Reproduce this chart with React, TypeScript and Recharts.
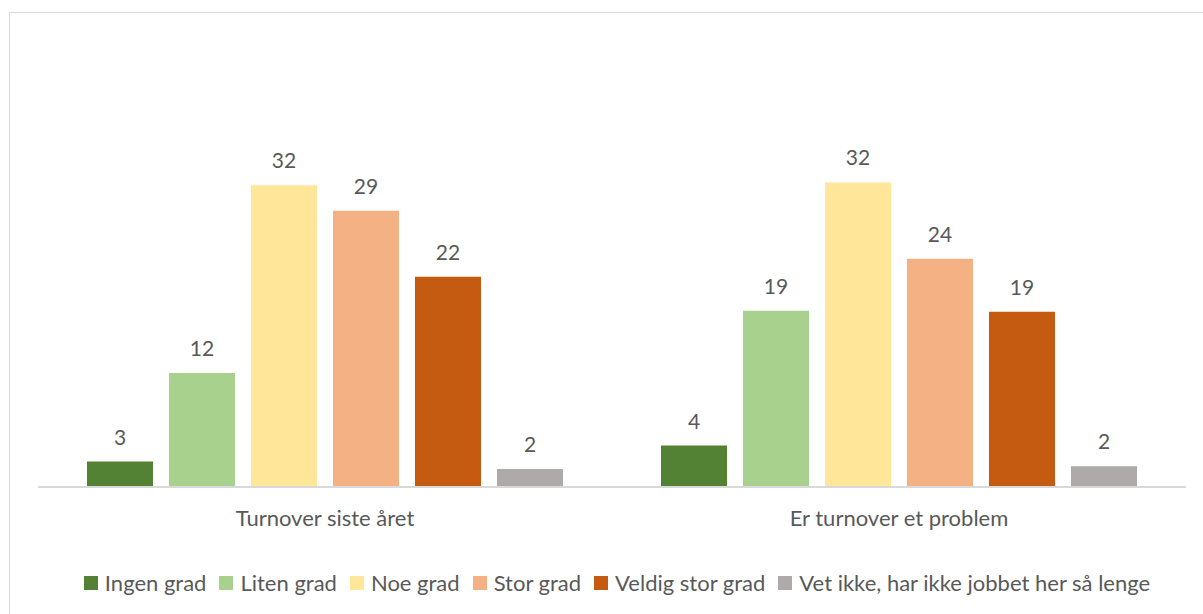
import { BarChart, Bar, XAxis, YAxis, LabelList } from "recharts";

const TEXT = "#595959";
const FONT = "Lato, 'Open Sans', sans-serif";

const categories = ["Turnover siste året", "Er turnover et problem"];

const seriesNames = [
  "Ingen grad",
  "Liten grad",
  "Noe grad",
  "Stor grad",
  "Veldig stor grad",
  "Vet ikke, har ikke jobbet her så lenge",
];
const seriesColors = ["#548235", "#A9D18E", "#FFE699", "#F4B183", "#C55A11", "#AEAAAA"];

// values per series, one per category (labels are rounded)
const ingenGrad = [2.7, 4.4];
const litenGrad = [12.1, 18.7];
const noeGrad = [32.0, 32.3];
const storGrad = [29.3, 24.2];
const veldigStorGrad = [22.3, 18.6];
const vetIkke = [1.9, 2.2];

const seriesValues = [ingenGrad, litenGrad, noeGrad, storGrad, veldigStorGrad, vetIkke];

const data = categories.map((name, i) => {
  const row: Record<string, number | string> = { name };
  seriesValues.forEach((vals, s) => (row[`s${s}`] = vals[i]));
  return row;
});

function Legend() {
  return (
    <div
      style={{
        position: "absolute",
        left: 0,
        width: 1234,
        top: 569,
        display: "flex",
        justifyContent: "center",
        gap: 13,
        fontFamily: FONT,
        fontSize: 22,
        color: TEXT,
      }}
    >
      {seriesNames.map((n, i) => (
        <div key={n} style={{ display: "flex", alignItems: "center", gap: 7 }}>
          <span style={{ width: 14, height: 14, background: seriesColors[i], display: "inline-block" }} />
          <span>{n}</span>
        </div>
      ))}
    </div>
  );
}

export default function App() {
  return (
    <div style={{ position: "absolute", left: 0, top: 0, width: 1203, height: 614, overflow: "hidden", background: "#fff" }}>
      <div
        style={{
          position: "absolute",
          left: 9,
          top: 12,
          width: 1230,
          height: 640,
          border: "1px solid #d9d9d9",
        }}
      />
      <BarChart
        width={1203}
        height={614}
        data={data}
        margin={{ top: 157, right: 17, left: 38, bottom: 87 }}
        barGap={16}
        style={{ position: "absolute", left: 0, top: 0 }}
      >
        <XAxis
          dataKey="name"
          height={40}
          tickLine={false}
          axisLine={{ stroke: "#d9d9d9", strokeWidth: 2 }}
          tick={{ fontSize: 22, fill: TEXT, fontFamily: FONT }}
          dy={15}
        />
        <YAxis hide domain={[0, 35]} />
        {seriesNames.map((n, i) => (
          <Bar key={n} dataKey={`s${i}`} name={n} fill={seriesColors[i]} barSize={66} isAnimationActive={false}>
            <LabelList
              dataKey={`s${i}`}
              position="top"
              offset={17}
              formatter={(v: any) => Math.round(Number(v))}
              style={{ fontSize: 21, fill: TEXT, fontFamily: FONT }}
            />
          </Bar>
        ))}
      </BarChart>
      <Legend />
    </div>
  );
}
